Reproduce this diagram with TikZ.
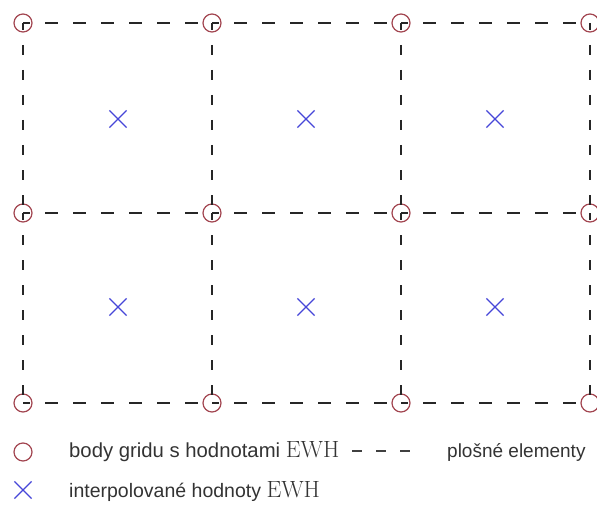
\documentclass[tikz,border=0pt]{standalone}
\usepackage{fontspec}
\newfontfamily\legendfont{Liberation Sans}
\usepackage{xcolor}
\usetikzlibrary{shapes.misc}
\definecolor{gridred}{HTML}{A24550}
\definecolor{interpblue}{HTML}{4646D8}
\definecolor{legendgray}{HTML}{333333}

\begin{document}
\begin{tikzpicture}[
    x=1pt, y=-1pt,
    gridpt/.style={circle, draw=gridred, line width=1.2pt, minimum size=18pt, inner sep=0pt},
    interp/.style={cross out, draw=interpblue, line width=1.2pt, minimum size=16pt, inner sep=0pt},
    helem/.style={line width=1.4pt, draw=black!85, dash pattern=on 13pt off 15pt, dash phase=6pt},
    velem/.style={line width=1.4pt, draw=black!85, dash pattern=on 10pt off 15pt, dash phase=3pt},
    legtext/.style={anchor=west, inner sep=0pt, text=legendgray,
        font=\legendfont\fontsize{19.5}{23}\selectfont},
]
\useasboundingbox (0,0) rectangle (597,508);

% Grid points
\foreach \i/\x in {0/23,1/212,2/401,3/590}
    \foreach \j/\y in {0/23,1/213,2/403}
        \node[gridpt] (g\i\j) at (\x,\y) {};

% Area elements (dashed)
\foreach \j in {0,1,2}
    \foreach \i/\k in {0/1,1/2,2/3}
        \draw[helem] (g\i\j.center) -- (g\k\j.center);
\foreach \i in {0,1,2,3}
    \foreach \j/\k in {0/1,1/2}
        \draw[velem] (g\i\j.center) -- (g\i\k.center);

% Interpolated values
\foreach \i/\x in {0/118,1/306,2/495}
    \foreach \j/\y in {0/119,1/307}
        \node[interp] (x\i\j) at (\x,\y) {};

% Legend
\newcommand\ewhlabel{{\rmfamily\fontsize{23.5}{26}\selectfont EWH}}
\node[gridpt] (leg-grid) at (23,452) {};
\node[legtext, font=\legendfont\fontsize{20.3}{23}\selectfont] (leg-grid-txt) at (69,452) {body gridu s hodnotami \ewhlabel};
\coordinate (leg-el-a) at (352,451);
\coordinate (leg-el-b) at (412,451);
\draw[line width=1.4pt, draw=black!75, dash pattern=on 10pt off 14pt] (leg-el-a) -- (leg-el-b);
\node[legtext, font=\legendfont\fontsize{19}{23}\selectfont] (leg-el-txt) at (447,452) {plošné elementy};
\node[interp] (leg-interp) at (23,490) {};
\node[legtext] (leg-interp-txt) at (69,491) {interpolované hodnoty \ewhlabel};
\end{tikzpicture}
\end{document}
